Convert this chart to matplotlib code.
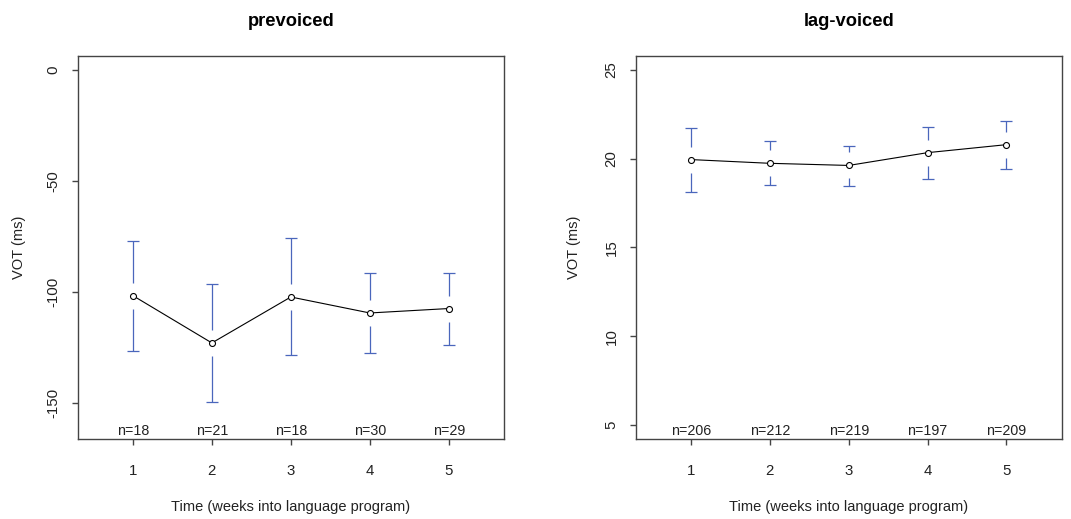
import numpy as np
import matplotlib
matplotlib.use("Agg")
import matplotlib.pyplot as plt

plt.rcParams['font.family'] = ['Liberation Sans', 'DejaVu Sans']

weeks = [1, 2, 3, 4, 5]

# prevoiced tokens
pre_mean = [-101.7, -123.0, -102.3, -109.5, -107.5]
pre_upper = [-76.9, -96.4, -75.9, -91.6, -91.6]
pre_lower = [-126.6, -149.6, -128.4, -127.5, -123.8]
pre_n = [18, 21, 18, 30, 29]

# lag-voiced tokens
lag_mean = [19.95, 19.74, 19.62, 20.34, 20.79]
lag_upper = [21.73, 21.02, 20.73, 21.78, 22.14]
lag_lower = [18.12, 18.53, 18.48, 18.87, 19.44]
lag_n = [206, 212, 219, 197, 209]

BLUE = '#4a66bc'
GREY = '#444444'
TXT = '#222222'


def r_lim(lo, hi):
    # R style 4% padding
    d = (hi - lo) * 0.04
    return lo - d, hi + d


def panel(ax, title, mean, upper, lower, n, ylim, yticks, ylab_x):
    ax.set_xlim(*r_lim(0.5, 5.5))
    ax.set_ylim(*r_lim(*ylim))

    # gap around the point, in data units (about 13 px)
    h_px = ax.get_position().height * ax.figure.get_figheight() * ax.figure.dpi
    gap = 13 / h_px * (ax.get_ylim()[1] - ax.get_ylim()[0])
    mean = np.array(mean)
    ax.vlines(weeks, mean + gap, upper, color=BLUE, lw=0.9)
    ax.vlines(weeks, lower, mean - gap, color=BLUE, lw=0.9)
    ax.plot(weeks, upper, ls='none', marker='_', ms=8, mew=0.9, color=BLUE)
    ax.plot(weeks, lower, ls='none', marker='_', ms=8, mew=0.9, color=BLUE)

    ax.plot(weeks, mean, color='black', lw=0.8, marker='o', ms=4.3,
            mfc='white', mec='black', mew=0.8)

    for x, k in zip(weeks, n):
        ax.text(x, 0.022, 'n=%d' % k, transform=ax.get_xaxis_transform(),
                ha='center', va='center', fontsize=10.3, color=TXT)

    ax.set_xticks(weeks)
    ax.set_yticks(yticks)
    ax.set_yticklabels([str(t) for t in yticks], rotation=90, va='center')
    ax.tick_params(length=4.5, width=1, color=GREY, labelsize=10.8,
                   labelcolor=TXT)
    ax.tick_params(axis='x', pad=13)
    ax.tick_params(axis='y', pad=8)
    for s in ax.spines.values():
        s.set_color(GREY)
        s.set_linewidth(1)

    ax.text(0.5, 1.09, title, transform=ax.transAxes, ha='center',
            va='center', fontsize=13.2, fontweight='bold')
    ax.set_xlabel('Time (weeks into language program)', fontsize=10.5,
                  color=TXT)
    ax.xaxis.set_label_coords(0.5, -0.158)
    ax.set_ylabel('VOT (ms)', fontsize=10.5, color=TXT)
    ax.yaxis.set_label_coords(ylab_x, 0.5)


fig = plt.figure(figsize=(10.71, 5.19), dpi=100)
ax1 = fig.add_axes([0.0725, 0.1536, 0.3981, 0.7391])
ax2 = fig.add_axes([0.5936, 0.1536, 0.3977, 0.7391])

panel(ax1, 'prevoiced', pre_mean, pre_upper, pre_lower, pre_n,
      (-160, 0), [0, -50, -100, -150], -0.12)
panel(ax2, 'lag-voiced', lag_mean, lag_upper, lag_lower, lag_n,
      (5, 25), [5, 10, 15, 20, 25], -0.128)

fig.savefig('out.png', dpi=100)
